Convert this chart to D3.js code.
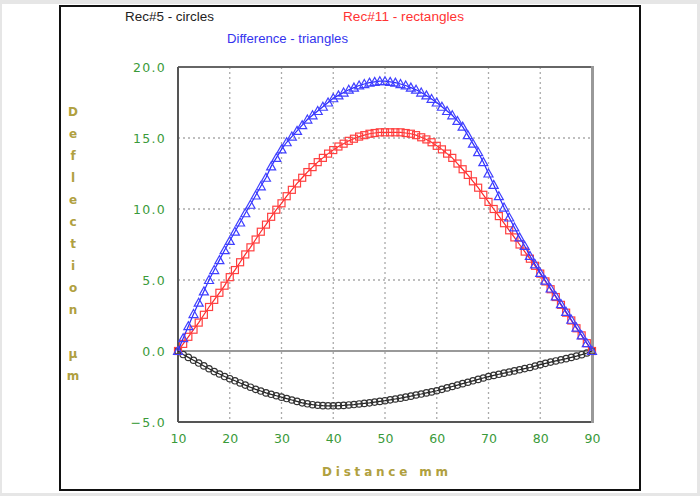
<!DOCTYPE html>
<html><head><meta charset="utf-8">
<script src="https://cdn.jsdelivr.net/npm/d3@7"></script>
<style>
html,body{margin:0;padding:0;background:#e6e6e6;}
svg{display:block;}
</style></head>
<body>
<svg id="chart" width="700" height="496"></svg>
<script>
const distance = [10,11,12,13,14,15,16,17,18,19,20,21,22,23,24,25,26,27,28,29,30,31,32,33,34,35,36,37,38,39,40,41,42,43,44,45,46,47,48,49,50,51,52,53,54,55,56,57,58,59,60,61,62,63,64,65,66,67,68,69,70,71,72,73,74,75,76,77,78,79,80,81,82,83,84,85,86,87,88,89,90];
const rec5 = [0,-0.25,-0.45,-0.65,-0.85,-1.05,-1.25,-1.45,-1.62,-1.8,-1.95,-2.1,-2.25,-2.4,-2.55,-2.7,-2.82,-2.95,-3.05,-3.15,-3.25,-3.35,-3.45,-3.55,-3.65,-3.72,-3.78,-3.82,-3.85,-3.86,-3.86,-3.85,-3.83,-3.8,-3.77,-3.73,-3.69,-3.65,-3.6,-3.55,-3.5,-3.44,-3.38,-3.32,-3.25,-3.18,-3.1,-3.03,-2.95,-2.88,-2.8,-2.7,-2.6,-2.5,-2.4,-2.3,-2.2,-2.1,-2.0,-1.9,-1.8,-1.72,-1.64,-1.56,-1.48,-1.4,-1.32,-1.24,-1.16,-1.06,-0.96,-0.87,-0.78,-0.7,-0.62,-0.54,-0.45,-0.36,-0.26,-0.14,0];
const rec11 = [0,0.5,1.0,1.5,2.0,2.55,3.1,3.6,4.1,4.6,5.2,5.7,6.25,6.8,7.3,7.85,8.4,8.9,9.45,9.95,10.4,10.9,11.35,11.8,12.2,12.6,12.95,13.3,13.6,13.9,14.15,14.4,14.6,14.8,14.95,15.1,15.2,15.3,15.35,15.4,15.4,15.4,15.4,15.4,15.35,15.3,15.2,15.05,14.9,14.7,14.45,14.2,13.9,13.6,13.2,12.8,12.4,11.95,11.5,11.0,10.5,10.0,9.5,9.0,8.5,8.0,7.5,7.0,6.5,6.0,5.45,4.9,4.35,3.8,3.25,2.7,2.15,1.6,1.1,0.55,0];
const difference = [0,0.9,1.75,2.6,3.4,4.2,5.0,5.7,6.4,7.1,7.75,8.4,9.05,9.7,10.3,10.95,11.6,12.2,13.0,13.6,14.2,14.7,15.1,15.5,15.9,16.3,16.6,16.9,17.2,17.5,17.8,18.0,18.2,18.4,18.55,18.7,18.8,18.9,18.95,19.0,19.0,18.95,18.9,18.8,18.7,18.55,18.4,18.2,18.0,17.75,17.5,17.2,16.9,16.6,16.2,15.8,15.2,14.6,14.0,13.3,12.5,11.7,10.9,10.1,9.4,8.7,8.0,7.4,6.7,6.1,5.5,4.95,4.4,3.85,3.3,2.75,2.2,1.65,1.1,0.55,0];
const xTicks = [10,20,30,40,50,60,70,80,90];
const yTicks = [-5,0,5,10,15,20];
const legendLabels = ["Rec#5 - circles","Rec#11 - rectangles","Difference - triangles"];
const xTitle = "Distance mm";
const yTitle = "Deflection µm";

const svg = d3.select("#chart");
svg.append("rect").attr("x",2).attr("y",4).attr("width",695).attr("height",489).attr("fill","#fff");
svg.append("rect").attr("x",60).attr("y",6).attr("width",580).attr("height",484)
  .attr("fill","none").attr("stroke","#111").attr("stroke-width",2);

const L=178,R=592,T=67,B=422;
const x = d3.scaleLinear().domain([10,90]).range([L,R]);
const y = d3.scaleLinear().domain([-5,20]).range([B,T]);

const g = svg.append("g");
g.selectAll(".vg").data(xTicks.filter(d=>d>10&&d<90)).enter().append("line")
  .attr("x1",d=>x(d)).attr("x2",d=>x(d)).attr("y1",T).attr("y2",B)
  .attr("stroke","#aaa").attr("stroke-width",1.3).attr("stroke-dasharray","2,3");
g.selectAll(".hg").data(yTicks.filter(d=>d>0&&d<20)).enter().append("line")
  .attr("x1",L).attr("x2",R).attr("y1",d=>y(d)).attr("y2",d=>y(d))
  .attr("stroke","#aaa").attr("stroke-width",1.3).attr("stroke-dasharray","2,3");
g.append("line").attr("x1",L).attr("x2",R).attr("y1",y(0)).attr("y2",y(0))
  .attr("stroke","#777").attr("stroke-width",1.5);

svg.append("line").attr("x1",L).attr("x2",R).attr("y1",T).attr("y2",T).attr("stroke","#666").attr("stroke-width",2);
svg.append("line").attr("x1",L).attr("x2",L).attr("y1",T).attr("y2",B).attr("stroke","#555").attr("stroke-width",2);
svg.append("line").attr("x1",L).attr("x2",R).attr("y1",B).attr("y2",B).attr("stroke","#555").attr("stroke-width",2);
svg.append("line").attr("x1",R+0.5).attr("x2",R+0.5).attr("y1",T-1).attr("y2",B+1).attr("stroke","#999").attr("stroke-width",3);

const tickColor = "#3a9a3a";
const xAxis = svg.append("g").attr("transform",`translate(0,${B})`)
  .call(d3.axisBottom(x).tickValues(xTicks).tickSize(0).tickPadding(12).tickFormat(d3.format("d")));
xAxis.select(".domain").remove();
xAxis.selectAll("text").attr("fill",tickColor).style("font-family","DejaVu Sans").style("font-size","12.5px");
const yAxis = svg.append("g").attr("transform",`translate(${L},0)`)
  .call(d3.axisLeft(y).tickValues(yTicks).tickSize(0).tickPadding(12).tickFormat(d3.format(".1f")));
yAxis.select(".domain").remove();
yAxis.selectAll("text").attr("fill",tickColor).style("font-family","DejaVu Sans").style("font-size","12.5px").style("letter-spacing","1.3px");

const pts = (arr)=>distance.map((d,i)=>[d,arr[i]]);
const line = d3.line().x(d=>x(d[0])).y(d=>y(d[1]));
const black="#222", red="#ff2a2a", blue="#2a2aff";

svg.append("path").attr("d",line(pts(rec5))).attr("fill","none").attr("stroke",black).attr("stroke-width",1.2);
svg.append("g").selectAll("circle").data(pts(rec5)).enter().append("circle")
  .attr("cx",d=>x(d[0])).attr("cy",d=>y(d[1])).attr("r",3.2)
  .attr("fill","none").attr("stroke","#333").attr("stroke-width",1.2);
svg.append("path").attr("d",line(pts(rec11))).attr("fill","none").attr("stroke",red).attr("stroke-width",1.2);
svg.append("g").selectAll("rect").data(pts(rec11)).enter().append("rect")
  .attr("x",d=>x(d[0])-3.5).attr("y",d=>y(d[1])-3.5).attr("width",7).attr("height",7)
  .attr("fill","none").attr("stroke","#ff4040").attr("stroke-width",1.2);
svg.append("path").attr("d",line(pts(difference))).attr("fill","none").attr("stroke",blue).attr("stroke-width",1.2);
svg.append("g").selectAll("path").data(pts(difference)).enter().append("path")
  .attr("d",d=>{const cx=x(d[0]),cy=y(d[1]);return `M${cx},${cy-4.5}L${cx+4.5},${cy+3.5}L${cx-4.5},${cy+3.5}Z`;})
  .attr("fill","none").attr("stroke","#4040ff").attr("stroke-width",1.2);

const lf = "Liberation Sans, Arial, sans-serif";
svg.append("text").attr("x",125).attr("y",21).attr("textLength",89).attr("lengthAdjust","spacingAndGlyphs")
  .attr("fill","#222").style("font-family",lf).style("font-size","12.5px").text(legendLabels[0]);
svg.append("text").attr("x",343).attr("y",21).attr("textLength",121).attr("lengthAdjust","spacingAndGlyphs")
  .attr("fill","#ff3333").style("font-family",lf).style("font-size","12.5px").text(legendLabels[1]);
svg.append("text").attr("x",227).attr("y",43).attr("textLength",121).attr("lengthAdjust","spacingAndGlyphs")
  .attr("fill","#3333ee").style("font-family",lf).style("font-size","12.5px").text(legendLabels[2]);

const titleColor = "#b0a040";
svg.append("text").attr("x",322).attr("y",476).attr("textLength",126).attr("lengthAdjust","spacing")
  .attr("fill",titleColor).style("font-family","DejaVu Sans").style("font-size","12px").style("font-weight","bold").text(xTitle);
svg.append("g").selectAll("text").data(Array.from(yTitle)).enter().append("text")
  .attr("x",73).attr("y",(d,i)=>111+i*22+4.5).attr("text-anchor","middle")
  .attr("fill",titleColor).style("font-family","DejaVu Sans").style("font-size","12px").style("font-weight","bold").text(d=>d);
</script>
</body></html>
